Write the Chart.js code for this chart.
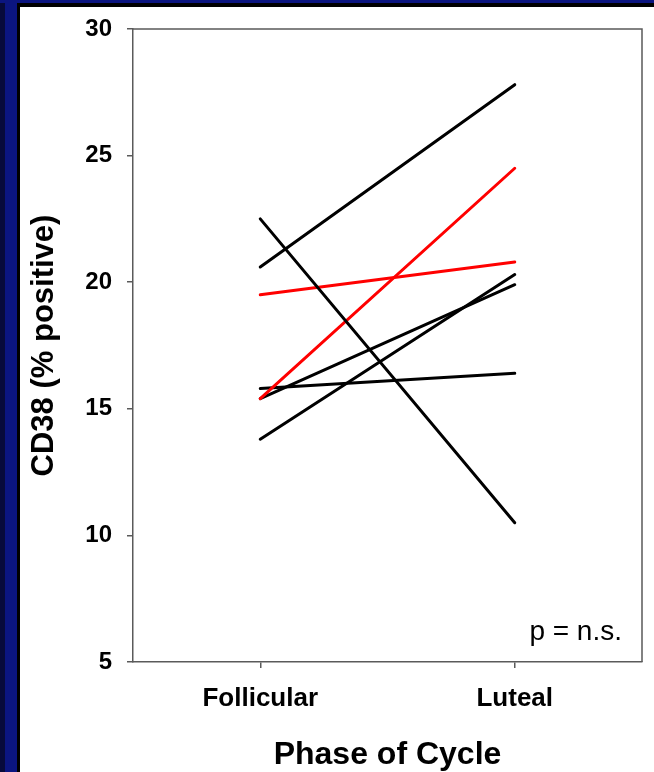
<!DOCTYPE html>
<html>
<head>
<meta charset="utf-8">
<script src="https://cdn.jsdelivr.net/npm/chart.js@4/dist/chart.umd.min.js"></script>
<style>
  html, body { margin: 0; padding: 0; background: #ffffff; width: 654px; height: 772px; overflow: hidden; }
  .strip { position: absolute; }
  #c { position: absolute; left: 20px; top: 7px; }
</style>
</head>
<body>
<div class="strip" style="left:0;top:0;width:5px;height:772px;background:#070a3a"></div>
<div class="strip" style="left:5px;top:0;width:12px;height:772px;background:#0b1580"></div>
<div class="strip" style="left:0;top:0;width:654px;height:3px;background:#0b1580"></div>
<div class="strip" style="left:17px;top:3px;width:637px;height:4px;background:#000"></div>
<div class="strip" style="left:17px;top:3px;width:3px;height:769px;background:#000"></div>
<canvas id="c" width="634" height="765"></canvas>
<script>
const categories = ["Follicular", "Luteal"];
const subjectFollicular = [22.5, 20.6, 19.5, 15.4, 15.4, 13.8, 15.8];
const subjectLuteal     = [10.5, 27.8, 20.8, 24.5, 19.9, 20.3, 16.4];
const subjectColors     = ["#000000", "#000000", "#ff0000", "#ff0000", "#000000", "#000000", "#000000"];
const yTicks = [5, 10, 15, 20, 25, 30];
const yTitle = "CD38 (% positive)";
const xTitle = "Phase of Cycle";
const note = "p = n.s.";

const FONT = "'Liberation Sans', Arial, Helvetica, sans-serif";
const AXIS = "#5a5a5a";

const datasets = subjectFollicular.map((v, i) => ({
  data: [v, subjectLuteal[i]],
  borderColor: subjectColors[i],
  borderWidth: 3,
  borderCapStyle: 'round',
  pointRadius: 0,
  pointHoverRadius: 0,
  fill: false,
  tension: 0
}));

const framePlugin = {
  id: 'frame',
  afterDraw(chart) {
    const {ctx, chartArea: a} = chart;
    ctx.save();
    ctx.strokeStyle = AXIS;
    ctx.lineWidth = 1.5;
    ctx.beginPath();
    ctx.moveTo(a.left, a.top);
    ctx.lineTo(a.right, a.top);
    ctx.lineTo(a.right, a.bottom);
    ctx.stroke();
    ctx.fillStyle = "#000";
    ctx.font = "28px " + FONT;
    ctx.textAlign = "right";
    ctx.textBaseline = "middle";
    ctx.fillText(note, a.right - 20, a.bottom - 30);
    ctx.restore();
  }
};

new Chart(document.getElementById('c'), {
  type: 'line',
  data: { labels: categories, datasets },
  plugins: [framePlugin],
  options: {
    responsive: false,
    devicePixelRatio: 1,
    animation: false,
    events: [],
    layout: { padding: { left: 0, top: 22, right: 12, bottom: 0 } },
    plugins: { legend: { display: false }, tooltip: { enabled: false } },
    scales: {
      x: {
        type: 'category',
        offset: true,
        grid: { display: true, drawOnChartArea: false, drawTicks: true, tickLength: 6, offset: false, color: AXIS, lineWidth: 1.5 },
        border: { display: true, color: AXIS, width: 1.5 },
        ticks: { color: "#000", font: { family: FONT, size: 26, weight: 'bold' }, padding: 15 },
        title: { display: true, text: xTitle, color: "#000", font: { family: FONT, size: 32, weight: 'bold' }, padding: { top: 0, bottom: -2 } },
        afterFit(scale) { scale.height = 110; scale.paddingLeft = 0; scale.paddingRight = 0; }
      },
      y: {
        min: 5, max: 30,
        afterBuildTicks(scale) { scale.ticks = yTicks.map(v => ({ value: v })); },
        grid: { display: true, drawOnChartArea: false, drawTicks: true, tickLength: 6, color: AXIS, lineWidth: 1.5 },
        border: { display: true, color: AXIS, width: 1.5 },
        ticks: { color: "#000", font: { family: FONT, size: 24, weight: 'bold' }, padding: 15 },
        title: { display: true, text: yTitle, color: "#000", font: { family: FONT, size: 31, weight: 'bold' }, padding: { top: 6, bottom: 0 } },
        afterFit(scale) { scale.width = 113; scale.paddingTop = 0; scale.paddingBottom = 0; }
      }
    }
  }
});
</script>
</body>
</html>
